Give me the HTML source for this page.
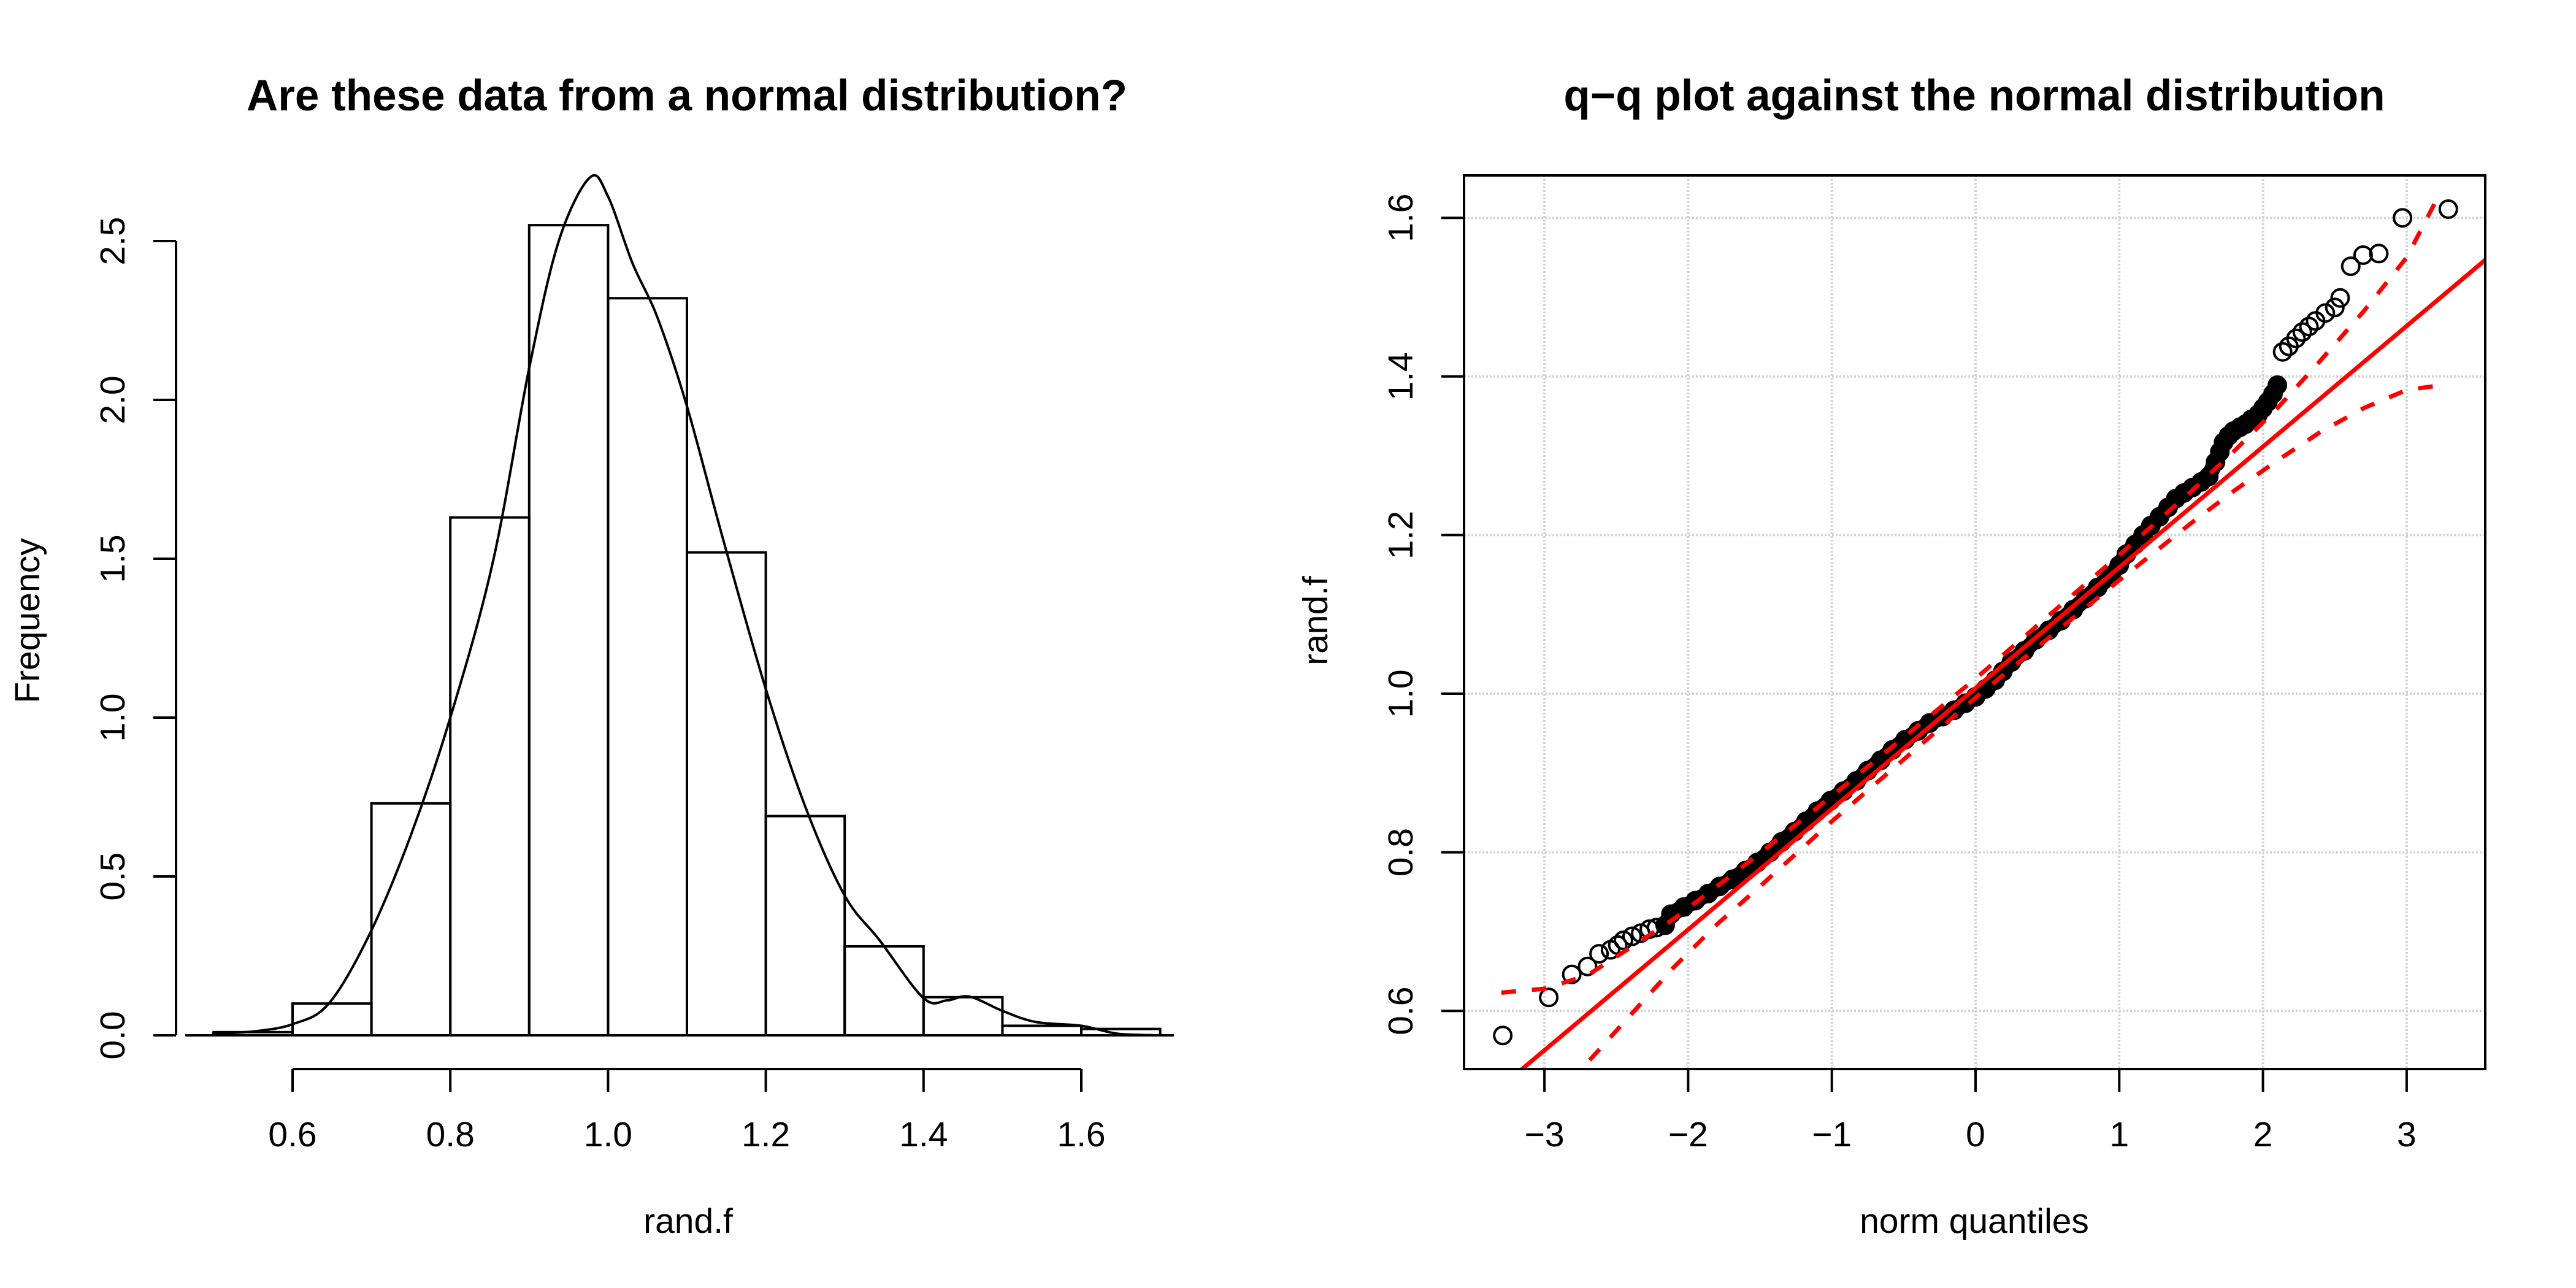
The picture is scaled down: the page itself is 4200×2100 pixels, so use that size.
<!DOCTYPE html>
<html><head><meta charset="utf-8">
<style>
html,body{margin:0;padding:0;background:#fff;}
svg{display:block;}
text{font-family:"Liberation Sans",Arial,sans-serif;fill:#000;}
</style></head>
<body>
<svg id="chart" xmlns="http://www.w3.org/2000/svg" width="4200" height="2100" viewBox="0 0 4200 2100">
<rect x="0" y="0" width="4200" height="2100" fill="#fff"/>
<g id="left"></g>
<g id="right"></g>
</svg>
<script>
// ---------- Histogram data ----------
const binEdges = [0.5,0.6,0.7,0.8,0.9,1.0,1.1,1.2,1.3,1.4,1.5,1.6,1.7];
const binDensity = [0.01,0.10,0.73,1.63,2.55,2.32,1.52,0.69,0.28,0.12,0.03,0.02];
const densX = [0.498,0.55,0.6,0.646,0.698,0.75,0.8,0.854,0.9,0.9375,0.977,1.0,1.031,1.0625,1.1,1.146,1.2,1.25,1.3,1.344,1.4,1.43,1.458,1.5,1.542,1.6,1.646,1.698];
const densY = [0.005,0.012,0.035,0.10,0.32,0.63,1.0,1.49,2.1,2.5,2.70,2.64,2.43,2.26,1.98,1.56,1.09,0.72,0.44,0.30,0.117,0.11,0.122,0.077,0.042,0.03,0.005,0.0];
const histXTicks = [0.6,0.8,1.0,1.2,1.4,1.6];
const histYTicks = [0.0,0.5,1.0,1.5,2.0,2.5];
const histXTickLabels = ["0.6","0.8","1.0","1.2","1.4","1.6"];
const histYTickLabels = ["0.0","0.5","1.0","1.5","2.0","2.5"];

// ---------- Q-Q data ----------
const qqTheo = [-3.29,-2.97,-2.81,-2.70,-2.62,-2.54,-2.49,-2.45,-2.39,-2.33,-2.27,-2.22,-2.16,-2.12,-2.03,-1.95,-1.86,-1.78,-1.69,-1.60,-1.52,-1.43,-1.35,-1.26,-1.18,-1.10,-1.01,-0.92,-0.83,-0.75,-0.66,-0.58,-0.49,-0.40,-0.32,-0.23,-0.15,-0.07,0.0,0.07,0.137,0.19,0.25,0.34,0.42,0.51,0.594,0.68,0.766,0.85,0.937,1.0,1.05,1.11,1.166,1.22,1.28,1.34,1.394,1.45,1.51,1.57,1.623,1.67,1.70,1.726,1.76,1.794,1.84,1.88,1.92,1.966,2.0,2.034,2.07,2.10,2.137,2.18,2.23,2.274,2.32,2.366,2.434,2.50,2.537,2.611,2.697,2.806,2.971,3.29];
const qqSample = [0.569,0.617,0.646,0.656,0.672,0.677,0.683,0.689,0.694,0.698,0.703,0.705,0.708,0.722,0.731,0.739,0.748,0.757,0.766,0.777,0.787,0.800,0.813,0.826,0.839,0.852,0.865,0.877,0.890,0.903,0.916,0.929,0.942,0.953,0.963,0.971,0.979,0.988,0.996,1.006,1.017,1.028,1.040,1.054,1.068,1.080,1.092,1.106,1.120,1.134,1.148,1.162,1.176,1.188,1.200,1.212,1.223,1.235,1.246,1.253,1.260,1.267,1.274,1.292,1.305,1.317,1.325,1.331,1.336,1.340,1.346,1.352,1.360,1.368,1.378,1.389,1.431,1.438,1.448,1.456,1.463,1.470,1.480,1.487,1.499,1.539,1.553,1.555,1.600,1.611];
const refLine = [[-3.6,0.459],[3.6,1.555]];
const envQ = [-3.3,-3.0,-2.7,-2.4,-2.1,-1.8,-1.5,-1.0,-0.5,0,0.5,1.0,1.5,1.8,2.1,2.4,2.7,3.0,3.2];
const envUpper = [0.623,0.628,0.645,0.680,0.716,0.757,0.799,0.871,0.945,1.019,1.097,1.175,1.255,1.306,1.36,1.42,1.482,1.55,1.62];
const envLower = [0.38,0.46,0.535,0.595,0.655,0.709,0.757,0.839,0.917,0.995,1.069,1.143,1.215,1.256,1.294,1.33,1.36,1.383,1.388];
const qqXTicks = [-3,-2,-1,0,1,2,3];
const qqYTicks = [0.6,0.8,1.0,1.2,1.4,1.6];
const qqXTickLabels = ["\u22123","\u22122","\u22121","0","1","2","3"];
const qqYTickLabels = ["0.6","0.8","1.0","1.2","1.4","1.6"];

const NS = "http://www.w3.org/2000/svg";
function mk(parent, tag, attrs, txt){
  const e = document.createElementNS(NS, tag);
  for (const k in attrs) e.setAttribute(k, attrs[k]);
  if (txt !== undefined) e.textContent = txt;
  parent.appendChild(e);
  return e;
}

// ===== Left panel: histogram =====
const L = document.getElementById('left');
const hx = v => 477 + (v - 0.6) * 1286;
const hy = v => 1688 - v * 518;

const title1 = mk(L,'text',{x:1120,y:180,'text-anchor':'middle','font-size':71,'font-weight':'bold'},'Are these data from a normal distribution?');



binDensity.forEach((d,i)=>{
  const r = mk(L,'rect',{x:hx(binEdges[i]),y:hy(d),width:hx(binEdges[i+1])-hx(binEdges[i]),height:hy(0)-hy(d),fill:'none',stroke:'#000','stroke-width':4});
  
  
});
const base = mk(L,'line',{x1:302,y1:hy(0),x2:1914,y2:hy(0),stroke:'#000','stroke-width':4});



let pts = densX.map((x,i)=>[hx(x),hy(densY[i])]);
let dstr = 'M'+pts[0][0]+','+pts[0][1];
for(let i=0;i<pts.length-1;i++){
  const p0=pts[Math.max(0,i-1)],p1=pts[i],p2=pts[i+1],p3=pts[Math.min(pts.length-1,i+2)];
  const c1=[p1[0]+(p2[0]-p0[0])/6,p1[1]+(p2[1]-p0[1])/6];
  const c2=[p2[0]-(p3[0]-p1[0])/6,p2[1]-(p3[1]-p1[1])/6];
  dstr+=' C'+c1[0]+','+c1[1]+' '+c2[0]+','+c2[1]+' '+p2[0]+','+p2[1];
}
const dens = mk(L,'path',{d:dstr,fill:'none',stroke:'#000','stroke-width':4});



const hxa = mk(L,'line',{x1:hx(histXTicks[0]),y1:1743,x2:hx(histXTicks[histXTicks.length-1]),y2:1743,stroke:'#000','stroke-width':4});


histXTicks.forEach((t,i)=>{
  const tk = mk(L,'line',{x1:hx(t),y1:1743,x2:hx(t),y2:1780,stroke:'#000','stroke-width':4});
  
  
  const tl = mk(L,'text',{x:hx(t),y:1869,'text-anchor':'middle','font-size':57},histXTickLabels[i]);
  
  
});
const hya = mk(L,'line',{x1:287,y1:hy(histYTicks[0]),x2:287,y2:hy(histYTicks[histYTicks.length-1]),stroke:'#000','stroke-width':4});


histYTicks.forEach((t,i)=>{
  const tk = mk(L,'line',{x1:250,y1:hy(t),x2:287,y2:hy(t),stroke:'#000','stroke-width':4});
  
  
  const tl = mk(L,'text',{x:0,y:0,'text-anchor':'middle','font-size':57,transform:'translate(203,'+hy(t)+') rotate(-90)'},histYTickLabels[i]);
  
  
});
const hxt = mk(L,'text',{x:1122,y:2010,'text-anchor':'middle','font-size':57},'rand.f');


const hyt = mk(L,'text',{x:0,y:0,'text-anchor':'middle','font-size':57,transform:'translate(64,1012) rotate(-90)'},'Frequency');



// ===== Right panel: Q-Q plot =====
const R = document.getElementById('right');
const BX0=2387,BX1=4052,BY0=286,BY1=1743;
const qx = v => 3221 + v * 234.3;
const qy = v => 1131 - (v - 1.0) * 1293;

const title2 = mk(R,'text',{x:3219,y:180,'text-anchor':'middle','font-size':71,'font-weight':'bold'},'q\u2212q plot against the normal distribution');



const defs = mk(R,'defs',{});
const cp = mk(defs,'clipPath',{id:'qqclip'});
mk(cp,'rect',{x:BX0,y:BY0,width:BX1-BX0,height:BY1-BY0});

qqXTicks.forEach(t=>{
  const g = mk(R,'line',{x1:qx(t),y1:BY0,x2:qx(t),y2:BY1,stroke:'#d3d3d3','stroke-width':4,'stroke-dasharray':'3 3'});
  
  
});
qqYTicks.forEach(t=>{
  const g = mk(R,'line',{x1:BX0,y1:qy(t),x2:BX1,y2:qy(t),stroke:'#d3d3d3','stroke-width':4,'stroke-dasharray':'3 3'});
  
  
});

const plotG = mk(R,'g',{'clip-path':'url(#qqclip)'});



const bodyIdx = qqTheo.map((q,i)=>i).filter(i=>qqTheo[i]>=-2.16 && qqTheo[i]<=2.10);
const band = mk(plotG,'polyline',{points:bodyIdx.map(i=>qx(qqTheo[i])+','+qy(qqSample[i])).join(' '),fill:'none',stroke:'#000','stroke-width':26,'stroke-linejoin':'round','stroke-linecap':'round'});



qqTheo.forEach((q,i)=>{
  const c = mk(plotG,'circle',{cx:qx(q),cy:qy(qqSample[i]),r:14,fill:'none',stroke:'#000','stroke-width':4});
  
  
});

const rl = mk(plotG,'line',{x1:qx(refLine[0][0]),y1:qy(refLine[0][1]),x2:qx(refLine[1][0]),y2:qy(refLine[1][1]),stroke:'#ff0000','stroke-width':7});



const up = mk(plotG,'polyline',{points:envQ.map((q,i)=>qx(q)+','+qy(envUpper[i])).join(' '),fill:'none',stroke:'#ff0000','stroke-width':7,'stroke-dasharray':'24 26'});


const lo = mk(plotG,'polyline',{points:envQ.map((q,i)=>qx(q)+','+qy(envLower[i])).join(' '),fill:'none',stroke:'#ff0000','stroke-width':7,'stroke-dasharray':'24 26'});



const box = mk(R,'rect',{x:BX0,y:BY0,width:BX1-BX0,height:BY1-BY0,fill:'none',stroke:'#000','stroke-width':4});



qqXTicks.forEach((t,i)=>{
  const tk = mk(R,'line',{x1:qx(t),y1:BY1,x2:qx(t),y2:BY1+37,stroke:'#000','stroke-width':4});
  
  
  const tl = mk(R,'text',{x:qx(t),y:1869,'text-anchor':'middle','font-size':57},qqXTickLabels[i]);
  
  
});
qqYTicks.forEach((t,i)=>{
  const tk = mk(R,'line',{x1:BX0-37,y1:qy(t),x2:BX0,y2:qy(t),stroke:'#000','stroke-width':4});
  
  
  const tl = mk(R,'text',{x:0,y:0,'text-anchor':'middle','font-size':57,transform:'translate(2303,'+qy(t)+') rotate(-90)'},qqYTickLabels[i]);
  
  
});
const qxt = mk(R,'text',{x:3219,y:2010,'text-anchor':'middle','font-size':57},'norm quantiles');


const qyt = mk(R,'text',{x:0,y:0,'text-anchor':'middle','font-size':57,transform:'translate(2164,1012) rotate(-90)'},'rand.f');


</script>
</body></html>
